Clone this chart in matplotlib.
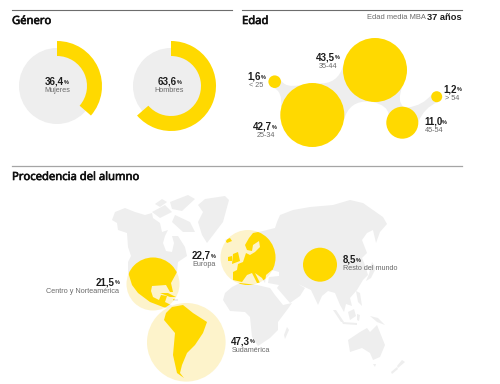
import matplotlib
matplotlib.use("Agg")
import numpy as np
import matplotlib.pyplot as plt
from matplotlib.patches import Circle, Wedge, Polygon, PathPatch
from matplotlib.path import Path
import matplotlib.patheffects as pe

gender_labels = ["Mujeres", "Hombres"]
gender_values = [36.4, 63.6]
age_labels = ["< 25", "25-34", "35-44", "45-54", "> 54"]
age_values = [1.6, 42.7, 43.5, 11.0, 1.2]
origin_labels = ["Centro y Norteamérica", "Europa", "Sudamérica", "Resto del mundo"]
origin_values = [21.5, 22.7, 47.3, 8.5]

YEL, PALE, GREY = "#FFD900", "#FDF3CB", "#EEEEEE"
DARK, MID = "#1c1c1c", "#6a6a6a"
VF, SF = "Liberation Sans", "Liberation Sans"

fig = plt.figure(figsize=(5, 3.84), dpi=100, facecolor="white")
ax = fig.add_axes([0, 0, 1, 1])
ax.set_xlim(0, 500); ax.set_ylim(384, 0); ax.axis("off")
rend = fig.canvas.get_renderer()


def fmt(v):
    return f"{v:.1f}".replace(".", ",")


def value_label(x, y, value, sub, align="center", subx=None, suby=9):
    a = ax.text(x, y, fmt(value), fontsize=7.0, fontweight="bold", family=VF, color=DARK, va="center", zorder=9)
    b = ax.text(x, y + .7, "%", fontsize=4.0, fontweight="bold", family=VF, color=DARK, va="center", zorder=9)
    wa, wb = a.get_window_extent(rend).width, b.get_window_extent(rend).width
    w = wa + wb
    left = {"center": x - w / 2, "left": x, "right": x - w}[align]
    a.set_x(left); b.set_x(left + wa)
    ax.text(x if subx is None else subx, y + suby, sub, fontsize=5.2, family=SF, color=MID, ha=align if subx is None else "center", va="center", zorder=9)


# rules and titles
ax.plot([12, 232], [9.5, 9.5], color="#6d6d6d", lw=.8)
ax.plot([242, 462], [9.5, 9.5], color="#6d6d6d", lw=.8)
ax.plot([12, 462], [165.8, 165.8], color="#a5a5a5", lw=.9)
for x, y, s in [(12, 21.5, "Género"), (242, 21.5, "Edad"), (12, 177.5, "Procedencia del alumno")]:
    t = ax.text(x, y, s, fontsize=8.1, family="Noto Sans", color="#111111", va="center")
    t.set_path_effects([pe.withStroke(linewidth=0.45, foreground="#111111")])

# gender donuts
for cx, v, lab, ty, tx in zip([57, 171], gender_values, gender_labels, [82, 81.3], [57, 169.5]):
    ax.add_patch(Circle((cx, 86), 38, fc=GREY, ec="none"))
    ax.add_patch(Wedge((cx, 86), 45, -90, -90 + 3.6 * v, width=15, fc=YEL, ec="none"))
    value_label(tx, ty, v, lab)

ax.text(425.5, 17.8, "Edad media MBA", fontsize=5.4, family=SF, color=MID, ha="right", va="center")
ax.text(461.5, 17, "37 años", fontsize=6.7, fontweight="bold", family=VF, color=DARK, ha="right", va="center")

# age bubbles
bubble_xy = [(274.7, 81.7), (312.3, 115), (375, 70), (402.3, 122.7), (436.7, 96.7)]
bubble_r = [6.3, 32, 32, 16, 5.5]


def neck(i, j, spread=0.85, waist=0.32):
    A, B = np.array(bubble_xy[i]), np.array(bubble_xy[j])
    ra, rb = bubble_r[i], bubble_r[j]
    d = np.linalg.norm(B - A); u = (B - A) / d; n = np.array([-u[1], u[0]])
    sp_a = spread if ra > 8 else 1.1
    sp_b = spread if rb > 8 else 1.1
    a1 = A + ra * (np.cos(sp_a) * u + np.sin(sp_a) * n)
    a2 = A + ra * (np.cos(sp_a) * u - np.sin(sp_a) * n)
    b1 = B + rb * (-np.cos(sp_b) * u + np.sin(sp_b) * n)
    b2 = B + rb * (-np.cos(sp_b) * u - np.sin(sp_b) * n)
    mid = A + u * (ra + (d - ra - rb) / 2)
    h = min(ra, rb) * waist
    verts = [a1, mid + n * h, b1, b2, mid - n * h, a2, a1]
    codes = [Path.MOVETO, Path.CURVE3, Path.CURVE3, Path.LINETO, Path.CURVE3, Path.CURVE3, Path.CLOSEPOLY]
    ax.add_patch(PathPatch(Path(verts, codes), fc=GREY, ec="none", zorder=1))


neck(0, 1, spread=0.5, waist=0.25)
neck(1, 2, spread=0.8, waist=0.28)
neck(2, 3, spread=0.55, waist=0.3)
neck(3, 4, spread=0.6, waist=0.2)
for xy, r in zip(bubble_xy, bubble_r):
    ax.add_patch(Circle(xy, r, fc=YEL, ec="none", zorder=2))
age_text = [(247.3, 76.7, 256), (253.3, 126.7, 265.7), (316, 57, 328.3), (424, 122, 434.3), (443.3, 89, 452.3)]
for (x, y, sx), v, lab in zip(age_text, age_values, age_labels):
    value_label(x, y, v, lab, align="left", subx=sx)

# world map outlines
north_america = [(112, 220), (115, 212), (125, 208), (135, 212), (145, 215), (152, 213), (153, 218), (160, 223),
                 (162, 232), (168, 230), (165, 236), (163, 243), (166, 251), (172, 252), (174, 243), (172, 236),
                 (178, 236), (185, 247), (187, 256), (178, 262), (177, 272), (171, 283), (173, 292), (170, 292),
                 (166, 285), (152, 286), (151, 291), (153, 297), (159, 300), (161, 295), (167, 296), (165, 302),
                 (173, 306), (178, 304), (181, 308), (173, 310), (163, 307), (150, 302), (138, 293), (132, 285),
                 (128, 272), (128, 262), (131, 256), (128, 247), (127, 233), (118, 230), (117, 223)]
cuba = [(160, 293), (168, 293), (176, 297), (170, 297)]
hispaniola = [(173, 299), (178, 299), (178, 301), (174, 301)]
arctic_a = [(175, 215), (190, 222), (195, 232), (183, 232), (172, 222)]
arctic_b = [(152, 212), (165, 205), (172, 212), (160, 218)]
arctic_c = [(170, 202), (188, 195), (195, 199), (182, 211), (172, 209)]
arctic_d = [(155, 204), (162, 199), (167, 202), (160, 207)]
greenland = [(205, 199), (225, 196), (229, 200), (223, 222), (207, 243), (202, 235), (198, 222), (203, 212), (198, 205)]
iceland = [(225, 240), (230, 238), (232, 241), (227, 243)]
uk = [(233, 254), (238, 252), (240, 261), (232, 264)]
ireland = [(228, 257), (232, 256), (232, 261), (228, 261)]
eurasia = [(275, 228), (263, 231), (253, 233), (249, 238), (245, 245), (247, 250), (252, 251), (253, 245), (259, 241),
           (260, 247), (255, 252), (250, 255), (246, 253), (243, 262), (238, 264), (237, 270), (233, 272), (233, 280),
           (242, 282), (247, 275), (252, 273), (257, 283), (260, 283), (255, 273), (262, 278), (265, 283), (266, 275),
           (272, 270), (279, 272), (279, 276), (269, 277), (268, 283), (279, 285), (277, 288), (290, 303), (300, 296),
           (305, 288), (298, 284), (311, 290), (318, 305), (322, 296), (328, 291), (335, 293), (340, 305), (344, 312),
           (346, 304), (352, 306), (350, 298), (357, 290), (363, 280), (368, 275), (365, 265), (362, 258), (367, 253),
           (362, 240), (367, 233), (373, 230), (376, 243), (380, 232), (387, 224), (383, 217), (363, 203), (350, 200),
           (333, 205), (310, 207), (293, 210), (280, 215), (277, 222)]
africa = [(232, 287), (240, 283), (257, 285), (270, 288), (275, 295), (283, 305), (292, 303), (287, 310), (278, 322),
          (278, 330), (270, 338), (258, 346), (252, 337), (250, 317), (245, 312), (230, 311), (223, 300), (225, 293)]
madagascar = [(287, 327), (289, 330), (285, 339), (284, 335)]
south_america = [(166, 313), (172, 307), (183, 305), (193, 313), (207, 322), (203, 333), (195, 345), (187, 353),
                 (182, 365), (180, 373), (184, 378), (177, 373), (173, 355), (175, 333), (164, 320)]
japan = [(372, 262), (376, 268), (371, 278), (366, 281), (369, 274)]
philippines = [(356, 291), (360, 293), (362, 306), (358, 302)]
sumatra = [(333, 310), (336, 310), (344, 322), (341, 322)]
borneo = [(348, 312), (354, 309), (356, 316), (350, 320)]
java = [(342, 322), (357, 323), (357, 325), (343, 324)]
sulawesi = [(357, 314), (360, 315), (359, 321), (357, 320)]
new_guinea = [(370, 316), (378, 318), (385, 325), (377, 322)]
australia = [(348, 340), (360, 332), (367, 328), (370, 332), (377, 325), (385, 345), (380, 357), (373, 360),
             (370, 353), (362, 348), (350, 352)]
tasmania = [(373, 364), (376, 364), (375, 367)]
nz_north = [(402, 360), (405, 362), (398, 368), (397, 366)]
nz_south = [(397, 367), (398, 369), (392, 374), (391, 372)]

land = [north_america, cuba, hispaniola, arctic_a, arctic_b, arctic_c, arctic_d, greenland, iceland, uk, ireland,
        eurasia, africa, madagascar, south_america, japan, philippines, sumatra, borneo, java, sulawesi,
        new_guinea, australia, tasmania, nz_north, nz_south]
for poly in land:
    ax.add_patch(Polygon(poly, closed=True, fc=GREY, ec="none", zorder=1, joinstyle="round"))

# origin circles
circles = {"na": ((153, 284), 26.5), "eu": ((248, 257.5), 27.5), "sa": ((186.3, 342.3), 39.3)}
groups = {"na": [north_america, cuba, hispaniola], "eu": [eurasia, iceland, uk, ireland, africa], "sa": [south_america]}
for key in ["na", "eu", "sa"]:
    c, r = circles[key]
    disc = Circle(c, r, fc=PALE, ec="none", zorder=2)
    ax.add_patch(disc)
    for poly in groups[key]:
        p = Polygon(poly, closed=True, fc=YEL, ec="none", zorder=3)
        ax.add_patch(p)
        p.set_clip_path(Circle(c, r, transform=ax.transData))
ax.add_patch(Circle((320, 264.7), 17, fc=YEL, ec="none", zorder=3))

value_label(119.3, 282.3, origin_values[0], origin_labels[0], align="right")
value_label(216, 255.3, origin_values[1], origin_labels[1], align="right")
value_label(231.3, 341, origin_values[2], origin_labels[2], align="left")
value_label(342.7, 259.3, origin_values[3], origin_labels[3], align="left")

fig.savefig("out.png", dpi=100)
